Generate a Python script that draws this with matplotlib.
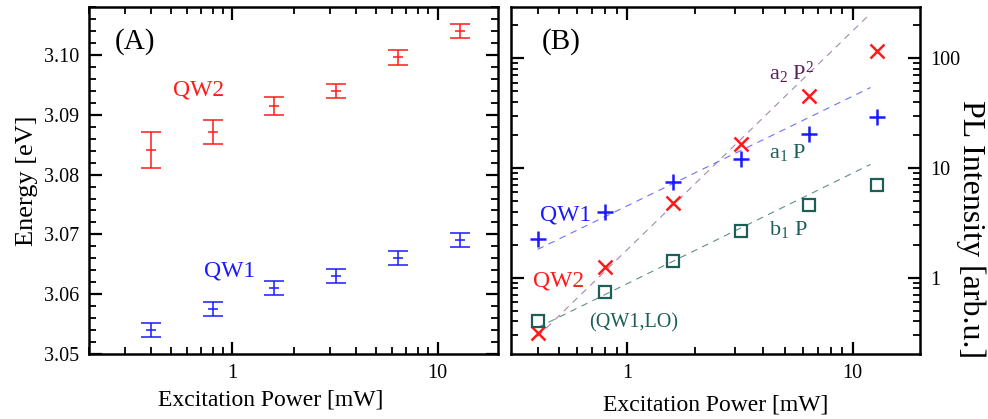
import numpy as np
import matplotlib
matplotlib.use("Agg")
import matplotlib.pyplot as plt

plt.rcParams['font.family'] = ['Liberation Serif', 'DejaVu Serif']
plt.rcParams['mathtext.fontset'] = 'custom'
plt.rcParams['mathtext.rm'] = 'Liberation Serif'
plt.rcParams['mathtext.it'] = 'Liberation Serif'

# excitation powers [mW]
power = [0.4, 0.8, 1.6, 3.2, 6.4, 12.8]

# panel A: peak energies [eV] and error bars
e_qw2 = [3.0841, 3.0871, 3.0915, 3.0940, 3.0996, 3.1040]
e_qw2_err = [0.0030, 0.0020, 0.0015, 0.0012, 0.0012, 0.0012]
e_qw1 = [3.0540, 3.0575, 3.0610, 3.0630, 3.0661, 3.0691]
e_qw1_err = [0.0012, 0.0012, 0.0012, 0.0012, 0.0012, 0.0012]

# panel B: integrated PL intensity [arb.u.]
i_qw1 = [2.27, 4.0, 7.5, 12.1, 20.3, 29.4]
i_qw2 = [0.31, 1.26, 4.77, 16.5, 45.4, 117.0]
i_lo = [0.40, 0.745, 1.42, 2.68, 4.6, 7.0]

# fitted power laws, end points of the dashed lines
fit_x = [0.4, 12.0]
fit_a1 = [1.81, 54.3]     # a1 P
fit_a2 = [0.29, 257.0]    # a2 P^2
fit_b1 = [0.35, 10.8]     # b1 P

RED = '#ff1a1a'
BLUE = '#1a1aff'
TEAL = '#1d5e58'
PURPLE = '#5c1f5c'

fig = plt.figure(figsize=(9.88, 4.19), dpi=100)
axA = fig.add_axes([0.0901, 0.155, 0.414, 0.828])
axB = fig.add_axes([0.5172, 0.155, 0.414, 0.828])


def style(ax):
    for s in ax.spines.values():
        s.set_linewidth(1.8)
    ax.tick_params(which='both', direction='in', top=True, bottom=True,
                   left=True, right=True, labelsize=14.5, pad=7)
    ax.tick_params(which='major', length=9, width=1.6)
    ax.tick_params(which='minor', length=5, width=1.3)


# ---- panel A
axA.errorbar(power, e_qw2, yerr=e_qw2_err, fmt='_', color=RED, ms=7,
             capsize=7, elinewidth=1.1, capthick=1.1, mew=1.1)
axA.errorbar(power, e_qw1, yerr=e_qw1_err, fmt='_', color=BLUE, ms=7,
             capsize=7, elinewidth=1.1, capthick=1.1, mew=1.1)
axA.set_xscale('log')
axA.set_xlim(0.2, 19.7)
axA.set_ylim(3.05, 3.108)
axA.set_yticks([3.05, 3.06, 3.07, 3.08, 3.09, 3.10])
axA.set_yticklabels(['3.05', '3.06', '3.07', '3.08', '3.09', '3.10'])
axA.yaxis.set_minor_locator(matplotlib.ticker.MultipleLocator(0.002))
axA.xaxis.set_major_formatter(matplotlib.ticker.FuncFormatter(lambda v, p: f"{v:g}"))
axA.xaxis.set_minor_formatter(matplotlib.ticker.NullFormatter())
style(axA)
axA.set_xlabel('Excitation Power [mW]', fontsize=17, va='center')
axA.xaxis.set_label_coords(0.443, -0.133)
axA.set_ylabel('Energy [eV]', fontsize=19, labelpad=4)
axA.text(0.063, 0.90, '(A)', transform=axA.transAxes, fontsize=21,
         ha='left', va='center')
axA.text(0.205, 0.76, 'QW2', transform=axA.transAxes, fontsize=17,
         color=RED, ha='left', va='center')
axA.text(0.28, 0.24, 'QW1', transform=axA.transAxes, fontsize=17,
         color=BLUE, ha='left', va='center')

# ---- panel B
axB.plot(fit_x, fit_a2, ls=(0, (6, 5)), lw=0.8, color='#a58aab')
axB.plot(fit_x, fit_a1, ls=(0, (6, 5)), lw=0.8, color='#6a72ff')
axB.plot(fit_x, fit_b1, ls=(0, (6, 5)), lw=0.8, color='#5e8f8a')
axB.plot(power, i_qw1, ls='none', marker='+', ms=11, mew=1.8, color=BLUE)
axB.plot(power, i_qw2, ls='none', marker='x', ms=10, mew=1.8, color=RED)
axB.plot(power, i_lo, ls='none', marker='s', ms=8.5, mew=1.6,
         mfc='none', mec=TEAL)
axB.set_xscale('log')
axB.set_yscale('log')
axB.set_xlim(0.305, 19.9)
axB.set_ylim(0.201, 294)
axB.xaxis.set_major_formatter(matplotlib.ticker.FuncFormatter(lambda v, p: f"{v:g}"))
axB.xaxis.set_minor_formatter(matplotlib.ticker.NullFormatter())
axB.yaxis.set_major_formatter(matplotlib.ticker.FuncFormatter(lambda v, p: f"{v:g}"))
axB.yaxis.set_minor_formatter(matplotlib.ticker.NullFormatter())
style(axB)
axB.tick_params(axis='y', which='both', labelleft=False, labelright=True)
axB.set_xlabel('Excitation Power [mW]', fontsize=17, va='center')
axB.xaxis.set_label_coords(0.5, -0.147)
axB.yaxis.set_label_position('right')
axB.set_ylabel('PL Intensity [arb.u.]', fontsize=23, rotation=270)
axB.yaxis.label.set_rotation_mode('default')
axB.yaxis.label.set_va('center')
axB.yaxis.label.set_ha('center')
axB.yaxis.set_label_coords(1.125, 0.36)
axB.text(0.075, 0.90, '(B)', transform=axB.transAxes, fontsize=21,
         ha='left', va='center')
axB.text(0.07, 0.40, 'QW1', transform=axB.transAxes, fontsize=17,
         color=BLUE, ha='left', va='center')
axB.text(0.055, 0.21, 'QW2', transform=axB.transAxes, fontsize=17,
         color=RED, ha='left', va='center')
axB.text(0.19, 0.09, '(QW1,LO)', transform=axB.transAxes, fontsize=14.5,
         color=TEAL, ha='left', va='center')
axB.text(0.63, 0.81, r'a$_2$ P$^2$', transform=axB.transAxes, fontsize=16,
         color=PURPLE, ha='left', va='center')
axB.text(0.63, 0.58, r'a$_1$ P', transform=axB.transAxes, fontsize=16,
         color=TEAL, ha='left', va='center')
axB.text(0.63, 0.36, r'b$_1$ P', transform=axB.transAxes, fontsize=16,
         color=TEAL, ha='left', va='center')

fig.savefig('out.png', dpi=100)
